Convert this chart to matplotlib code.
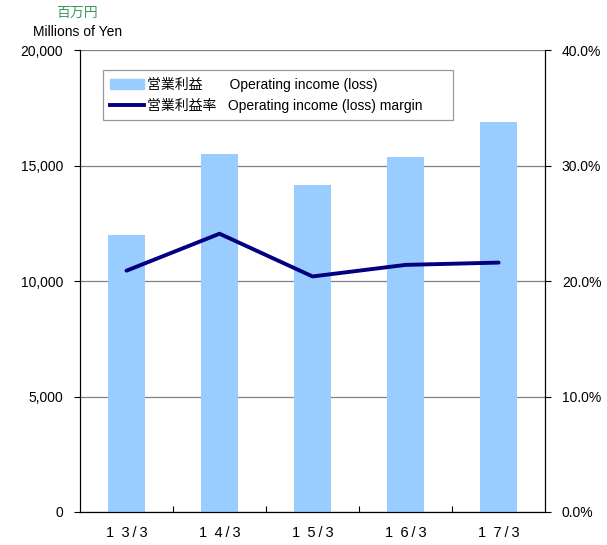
import matplotlib.pyplot as plt
from matplotlib.ticker import FuncFormatter
from matplotlib.lines import Line2D
from matplotlib.patches import Patch

plt.rcParams['font.family'] = ['Liberation Sans', 'Noto Sans CJK JP', 'DejaVu Sans']

years = ['1\u20023\u2009/\u20093', '1\u20024\u2009/\u20093', '1\u20025\u2009/\u20093',
         '1\u20026\u2009/\u20093', '1\u20027\u2009/\u20093']
income = [12000, 15500, 14150, 15370, 16900]
margin = [20.9, 24.1, 20.4, 21.4, 21.6]

fig = plt.figure(figsize=(6.07, 5.45), dpi=100)
ax = fig.add_axes([0.1318, 0.0606, 0.7662, 0.8474])
x = list(range(len(years)))

ax.bar(x, income, width=0.4, color='#99ccff', zorder=2)
ax.set_xlim(-0.5, len(years) - 0.5)
ax.set_ylim(0, 20000)
ax.set_yticks([0, 5000, 10000, 15000, 20000])
ax.yaxis.set_major_formatter(FuncFormatter(lambda v, p: f'{int(v):,}'))
ax.yaxis.grid(True, color='#808080', lw=0.9, zorder=0)
ax.set_axisbelow(True)
ax.spines['top'].set_visible(False)
ax.tick_params(axis='y', direction='out', length=4, labelsize=10, pad=8)
ax.set_xticks([i + 0.5 for i in x[:-1]])
ax.set_xticklabels([])
ax.tick_params(axis='x', direction='in', length=4)
for i, lab in enumerate(years):
    ax.text(i, -0.03, lab, transform=ax.get_xaxis_transform(), ha='center', va='top',
            fontsize=10.5)

ax2 = ax.twinx()
ax2.plot(x, margin, color='#000080', lw=2.8, solid_capstyle='round', zorder=3)
ax2.set_ylim(0, 40)
ax2.set_yticks([0, 10, 20, 30, 40])
ax2.yaxis.set_major_formatter(FuncFormatter(lambda v, p: f'{v:.1f}%'))
ax2.spines['top'].set_visible(False)
ax2.tick_params(axis='y', direction='out', length=4, labelsize=10, pad=8)

fig.text(0.126, 0.976, '百万円', color='#3c9a5f', fontsize=10, ha='center', va='center',
         family=['Noto Sans CJK JP', 'DejaVu Sans'])
fig.text(0.127, 0.941, 'Millions of Yen', fontsize=10, ha='center', va='center')

handles = [Patch(color='#99ccff'), Line2D([], [], color='#000080', lw=2.8)]
labels = ['営業利益       Operating income (loss)',
          '営業利益率   Operating income (loss) margin      ']
leg = ax.legend(handles, labels, loc='upper left', bbox_to_anchor=(0.049, 0.957),
                borderaxespad=0, frameon=True, fancybox=False, edgecolor='#808080',
                handlelength=2.5, handletextpad=0.2, borderpad=0.5, labelspacing=0.4,
                prop={'family': ['Liberation Sans', 'Noto Sans CJK JP', 'DejaVu Sans'], 'size': 10})
leg.get_frame().set_linewidth(0.9)
leg.set_zorder(5)

fig.savefig('out.png', dpi=100)
